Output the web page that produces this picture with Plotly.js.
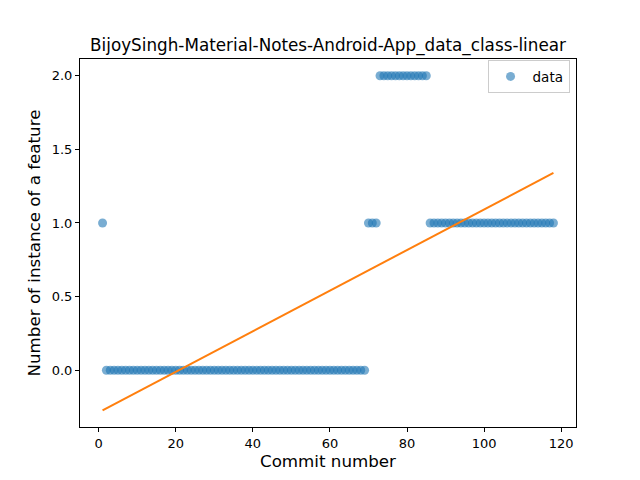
<!DOCTYPE html>
<html>
<head>
<meta charset="utf-8">
<script src="https://cdn.plot.ly/plotly-3.0.1.min.js"></script>
<style>
  html, body { margin: 0; padding: 0; background: #fff; }
  #chart { width: 640px; height: 480px; }
</style>
</head>
<body>
<div id="chart"></div>
<script>
// commit numbers and feature counts
const commits = [];
for (let i = 1; i <= 118; i++) commits.push(i);

const counts = [
  1,
  0, 0, 0, 0, 0, 0, 0, 0, 0, 0, 0, 0, 0, 0, 0, 0, 0, 0, 0, 0,
  0, 0, 0, 0, 0, 0, 0, 0, 0, 0, 0, 0, 0, 0, 0, 0, 0, 0, 0, 0,
  0, 0, 0, 0, 0, 0, 0, 0, 0, 0, 0, 0, 0, 0, 0, 0, 0, 0, 0, 0,
  0, 0, 0, 0, 0, 0, 0, 0,
  1, 1, 1,
  2, 2, 2, 2, 2, 2, 2, 2, 2, 2, 2, 2, 2,
  1, 1, 1, 1, 1, 1, 1, 1, 1, 1, 1, 1, 1, 1, 1, 1, 1, 1, 1, 1,
  1, 1, 1, 1, 1, 1, 1, 1, 1, 1, 1, 1, 1
];

const xTicks = [0, 20, 40, 60, 80, 100, 120];
const yTicks = [0.0, 0.5, 1.0, 1.5, 2.0];

// least squares line through the data
function linearFit(xs, ys) {
  const n = xs.length;
  const mx = xs.reduce((a, b) => a + b, 0) / n;
  const my = ys.reduce((a, b) => a + b, 0) / n;
  let sxy = 0, sxx = 0;
  for (let i = 0; i < n; i++) {
    sxy += (xs[i] - mx) * (ys[i] - my);
    sxx += (xs[i] - mx) * (xs[i] - mx);
  }
  const slope = sxy / sxx;
  return xs.map(x => my + slope * (x - mx));
}

const fitted = linearFit(commits, counts);

// matplotlib style 5% padding
function padRange(vals) {
  const lo = Math.min(...vals), hi = Math.max(...vals);
  const pad = (hi - lo) * 0.05;
  return [lo - pad, hi + pad];
}

const font = 'DejaVu Sans, sans-serif';

const traces = [
  {
    x: commits,
    y: counts,
    type: 'scatter',
    mode: 'markers',
    name: 'data',
    marker: { color: '#1f77b4', size: 9, opacity: 0.6, line: { width: 0 } }
  },
  {
    x: commits,
    y: fitted,
    type: 'scatter',
    mode: 'lines',
    showlegend: false,
    line: { color: '#ff7f0e', width: 2 }
  }
];

const axisBase = {
  showgrid: false,
  zeroline: false,
  showline: true,
  mirror: true,
  linecolor: '#000',
  linewidth: 1,
  ticks: 'outside',
  ticklen: 4,
  tickwidth: 1,
  tickcolor: '#000',
  tickfont: { family: font, size: 13, color: '#000' }
};

const layout = {
  width: 640,
  height: 480,
  paper_bgcolor: '#fff',
  plot_bgcolor: '#fff',
  margin: { l: 80, r: 64, t: 59, b: 53 },
  title: {
    text: 'BijoySingh-Material-Notes-Android-App_data_class-linear',
    font: { family: font, size: 16.8, color: '#000' },
    x: 0.5, xref: 'paper', xanchor: 'center',
    y: 1, yref: 'paper', yanchor: 'bottom', pad: { b: 8 }
  },
  xaxis: Object.assign({}, axisBase, {
    range: padRange(commits),
    tickvals: xTicks,
    ticktext: xTicks.map(String),
    title: { text: 'Commit number', font: { family: font, size: 16.7, color: '#000' }, standoff: 5 }
  }),
  yaxis: Object.assign({}, axisBase, {
    range: padRange(counts.concat(fitted)),
    tickvals: yTicks,
    ticktext: yTicks.map(v => v.toFixed(1)),
    title: { text: 'Number of instance of a feature', font: { family: font, size: 16.7, color: '#000' }, standoff: 6 }
  }),
  showlegend: true,
  legend: {
    x: 0.987, y: 0.997, xanchor: 'right', yanchor: 'top',
    bgcolor: 'rgba(255,255,255,0.8)',
    bordercolor: '#ccc',
    borderwidth: 1,
    itemwidth: 34,
    font: { family: font, size: 13.5, color: '#000' }
  }
};

Plotly.newPlot('chart', traces, layout, { displayModeBar: false, staticPlot: true });
</script>
</body>
</html>
